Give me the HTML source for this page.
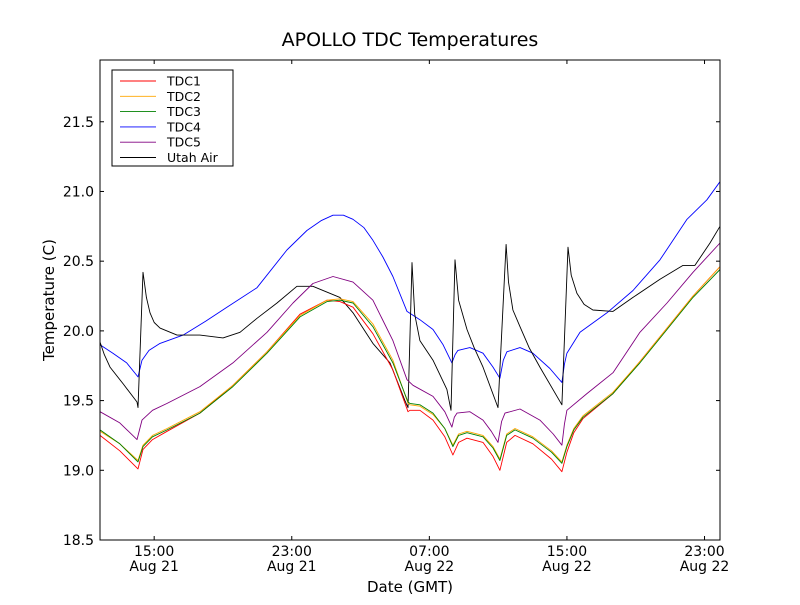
<!DOCTYPE html>
<html><head><meta charset="utf-8"><style>
body{margin:0;background:#fff;}
svg text{font-family:"DejaVu Sans","Liberation Sans",sans-serif;fill:#000;}
</style></head><body>
<svg id="chart" width="800" height="600" viewBox="0 0 800 600" xmlns="http://www.w3.org/2000/svg">
<rect width="800" height="600" fill="#fff"/>
<text x="410" y="46" font-size="19" text-anchor="middle">APOLLO TDC Temperatures</text>
<g id="series"></g>
<rect x="100" y="60" width="620" height="480" fill="none" stroke="#000" stroke-width="1"/>
<g id="axes"></g>
<text transform="translate(54,300) rotate(-90)" font-size="15" text-anchor="middle">Temperature (C)</text>
<text x="410" y="592" font-size="15" text-anchor="middle">Date (GMT)</text>
<g id="legend"></g>
</svg>
<script>
// time in hours since Aug 21 00:00 GMT
const tdc4Times=[11.85,12.6,13.4,14.06,14.29,14.7,15.34,16.68,18.0,19.23,20.98,22.72,23.88,24.7,25.40,26.0,26.56,27.2,27.72,28.3,28.88,29.70,30.45,31.21,31.8,32.31,32.5,32.66,33.36,34.12,34.7,35.10,35.3,35.51,36.27,37.02,38.01,38.71,38.85,39.00,39.76,41.33,42.84,44.41,45.98,47.14,47.9];
const tdc4Values=[19.90,19.84,19.77,19.67,19.79,19.86,19.91,19.97,20.07,20.17,20.31,20.58,20.72,20.79,20.83,20.83,20.80,20.74,20.65,20.53,20.39,20.14,20.08,20.01,19.90,19.77,19.83,19.86,19.88,19.84,19.74,19.66,19.79,19.85,19.88,19.84,19.73,19.63,19.76,19.84,19.99,20.13,20.29,20.51,20.80,20.94,21.07];
const airTimes=[11.85,12.1,12.43,13.2,14.00,14.06,14.35,14.55,14.76,15.0,15.34,16.33,17.66,19.00,19.99,20.98,22.14,23.30,24.23,25.80,26.56,27.72,28.71,29.58,29.76,29.99,30.15,30.45,31.21,32.02,32.26,32.49,32.7,33.19,33.6,34.12,34.99,35.46,35.6,35.86,36.27,36.8,37.43,38.71,39.06,39.25,39.58,40.0,40.51,41.68,42.84,44.41,45.75,46.44,47.32,47.9];
const airValues=[19.92,19.83,19.74,19.62,19.49,19.45,20.42,20.24,20.13,20.06,20.02,19.97,19.97,19.95,19.99,20.09,20.20,20.32,20.32,20.24,20.13,19.91,19.77,19.50,19.45,20.49,20.12,19.93,19.79,19.58,19.43,20.51,20.22,20.01,19.88,19.74,19.45,20.62,20.35,20.15,20.03,19.88,19.74,19.47,20.60,20.40,20.27,20.19,20.15,20.14,20.24,20.37,20.47,20.47,20.63,20.75];
const tdc5Times=[11.85,13.0,14.00,14.29,14.9,15.75,17.66,19.58,21.56,23.07,24.23,25.40,26.56,27.72,28.88,29.70,30.05,31.21,31.9,32.31,32.45,32.61,33.36,34.12,34.6,34.99,35.2,35.40,36.27,37.43,38.2,38.71,38.85,39.00,40.16,41.68,43.24,44.82,46.33,47.9];
const tdc5Values=[19.42,19.34,19.22,19.36,19.43,19.48,19.60,19.77,19.99,20.20,20.34,20.39,20.35,20.22,19.93,19.65,19.61,19.53,19.42,19.31,19.38,19.41,19.42,19.36,19.28,19.20,19.35,19.41,19.44,19.36,19.26,19.18,19.33,19.43,19.55,19.70,19.99,20.20,20.42,20.63];
const tdc3Times=[11.85,13.0,14.06,14.35,14.9,15.75,17.66,19.58,21.56,23.48,25.05,25.80,26.56,27.72,28.88,29.76,29.87,30.45,31.21,31.9,32.37,32.7,33.19,34.12,34.7,35.10,35.5,35.98,37.02,38.1,38.71,39.00,39.4,39.93,41.68,43.24,44.82,46.33,47.9];
const tdc3Values=[19.29,19.19,19.06,19.17,19.24,19.29,19.41,19.60,19.84,20.10,20.21,20.22,20.20,20.03,19.77,19.49,19.48,19.47,19.41,19.30,19.17,19.25,19.27,19.24,19.16,19.07,19.25,19.29,19.23,19.13,19.05,19.17,19.29,19.38,19.55,19.77,20.01,20.24,20.44];
const tdc2Values=[19.28,19.19,19.07,19.18,19.25,19.30,19.42,19.61,19.85,20.11,20.22,20.23,20.21,20.05,19.79,19.48,19.47,19.46,19.40,19.30,19.18,19.26,19.28,19.25,19.17,19.08,19.26,19.30,19.24,19.14,19.06,19.18,19.30,19.39,19.56,19.78,20.02,20.25,20.46];
const tdc1Values=[19.25,19.14,19.01,19.15,19.22,19.28,19.41,19.61,19.85,20.12,20.22,20.21,20.17,19.98,19.72,19.42,19.43,19.43,19.36,19.24,19.11,19.20,19.23,19.20,19.10,19.00,19.20,19.25,19.19,19.08,18.99,19.13,19.27,19.37,19.55,19.78,20.02,20.25,20.46];
const yTicks=[18.5,19.0,19.5,20.0,20.5,21.0,21.5];
const yTickLabels=["18.5","19.0","19.5","20.0","20.5","21.0","21.5"];
const xTicks=[15,23,31,39,47];
const xTickTimes=["15:00","23:00","07:00","15:00","23:00"];
const xTickDates=["Aug 21","Aug 21","Aug 22","Aug 22","Aug 22"];

const X0=100,X1=720,Y0=540,Y1=60,TMIN=11.85,TMAX=47.9,VMIN=18.5,VMAX=21.943;
const xs=t=>X0+(t-TMIN)/(TMAX-TMIN)*(X1-X0);
const ys=v=>Y0-(v-VMIN)/(VMAX-VMIN)*(Y0-Y1);
const NS="http://www.w3.org/2000/svg";
const seriesG=document.getElementById('series');
function line(times,vals,color,name){
  const p=document.createElementNS(NS,'polyline');
  p.setAttribute('points',times.map((t,i)=>xs(t).toFixed(1)+','+ys(vals[i]).toFixed(1)).join(' '));
  p.setAttribute('fill','none');p.setAttribute('stroke',color);p.setAttribute('stroke-width','0.9');
  p.setAttribute('stroke-linejoin','round');
  
  
  seriesG.appendChild(p);
}
line(tdc4Times,tdc4Values,'#0000ff','tdc4-line');
line(airTimes,airValues,'#000000','utah-air-line');
line(tdc5Times,tdc5Values,'#800080','tdc5-line');
line(tdc3Times,tdc1Values,'#ff0000','tdc1-line');
line(tdc3Times,tdc2Values,'#ffa500','tdc2-line');
line(tdc3Times,tdc3Values,'#008000','tdc3-line');

const axes=document.getElementById('axes');
function el(tag,attrs,txt){const e=document.createElementNS(NS,tag);for(const k in attrs)e.setAttribute(k,attrs[k]);if(txt!==undefined)e.textContent=txt;axes.appendChild(e);return e;}
yTicks.forEach((v,i)=>{
  const y=ys(v);
  const t1=el('line',{x1:X0,x2:X0+4,y1:y,y2:y,stroke:'#000'});
  
  
  const t2=el('line',{x1:X1-4,x2:X1,y1:y,y2:y,stroke:'#000'});
  
  
  const lb=el('text',{x:X0-6,y:y+5,'font-size':'14','text-anchor':'end'},yTickLabels[i]);
  
  
});
xTicks.forEach((t,i)=>{
  const x=xs(t);
  const t1=el('line',{x1:x,x2:x,y1:Y0,y2:Y0-4,stroke:'#000'});
  
  
  const t2=el('line',{x1:x,x2:x,y1:Y1,y2:Y1+4,stroke:'#000'});
  
  
  const a=el('text',{x:x,y:556,'font-size':'14','text-anchor':'middle'},xTickTimes[i]);
  
  
  const b=el('text',{x:x,y:571,'font-size':'14','text-anchor':'middle'},xTickDates[i]);
  
  
});

const legendNames=["TDC1","TDC2","TDC3","TDC4","TDC5","Utah Air"];
const legendColors=["#ff0000","#ffa500","#008000","#0000ff","#800080","#000000"];
const lg=document.getElementById('legend');
const box=document.createElementNS(NS,'rect');
box.setAttribute('x',112);box.setAttribute('y',70);box.setAttribute('width',121);box.setAttribute('height',96);
box.setAttribute('fill','#fff');box.setAttribute('stroke','#000');


lg.appendChild(box);
legendNames.forEach((n,i)=>{
  const y=81+i*15.3;
  const g=document.createElementNS(NS,'g');
  
  
  const l=document.createElementNS(NS,'line');
  l.setAttribute('x1',120);l.setAttribute('x2',156);l.setAttribute('y1',y);l.setAttribute('y2',y);
  l.setAttribute('stroke',legendColors[i]);l.setAttribute('stroke-width','0.9');
  const tx=document.createElementNS(NS,'text');
  tx.setAttribute('x',167);tx.setAttribute('y',y+4.5);tx.setAttribute('font-size','12.5');
  tx.textContent=n;
  g.appendChild(l);g.appendChild(tx);lg.appendChild(g);
});
</script>
</body></html>
